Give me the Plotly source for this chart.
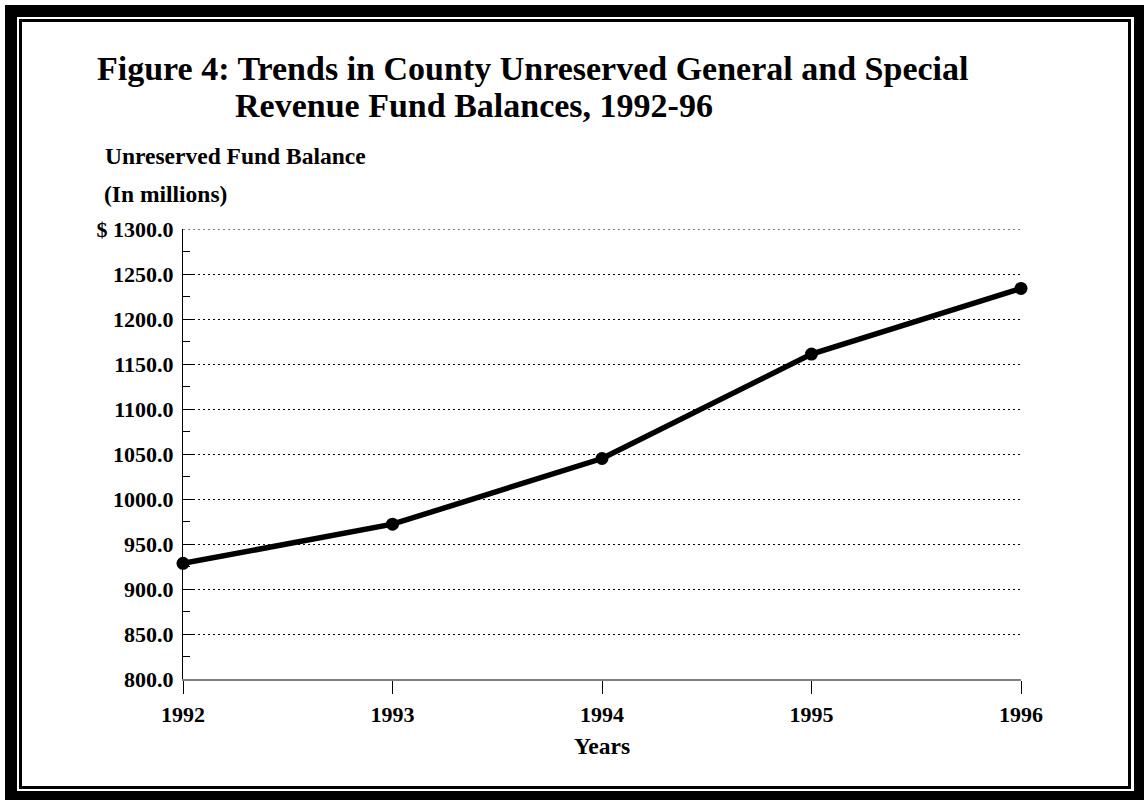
import plotly.graph_objects as go

years = [1992, 1993, 1994, 1995, 1996]
balances = [928.5, 972.0, 1045.0, 1161.0, 1234.0]
ytick_vals = [800, 850, 900, 950, 1000, 1050, 1100, 1150, 1200, 1250, 1300]
ytick_text = ["800.0", "850.0", "900.0", "950.0", "1000.0", "1050.0", "1100.0",
              "1150.0", "1200.0", "1250.0", "$ 1300.0"]
xtick_text = ["1992", "1993", "1994", "1995", "1996"]

W, H = 1144, 800
L, R, T, B = 183, 123, 229, 121
PW, PH = W - L - R, H - T - B


def px(x):
    return (x - L) / PW


def py(y):
    return (H - B - y) / PH


FONT = "Liberation Serif, Times New Roman, serif"

fig = go.Figure()
fig.add_trace(go.Scatter(
    x=years, y=balances, mode="lines+markers",
    line=dict(color="black", width=5.5),
    marker=dict(color="black", size=13),
    cliponaxis=False, showlegend=False,
))

shapes = []
for (x0, y0, x1, y1, c) in [(5, 5, 1144, 800, "black"),
                            (17, 17, 1134, 791, "white"),
                            (19, 19, 1131, 789, "black"),
                            (22, 22, 1128, 786, "white")]:
    shapes.append(dict(type="rect", xref="paper", yref="paper",
                       x0=px(x0), x1=px(x1), y0=py(y0), y1=py(y1),
                       fillcolor=c, line=dict(width=0), layer="below"))
# top gridline (at the range edge)
shapes.append(dict(type="line", xref="x", yref="y",
                   x0=years[0], x1=years[-1], y0=ytick_vals[-1], y1=ytick_vals[-1],
                   line=dict(color="black", width=1, dash="2px,3px"), layer="below"))

annotations = [
    dict(text="<b>Figure 4: Trends in County Unreserved General and Special</b>",
         x=px(95), y=py(68), xanchor="left", yanchor="middle",
         font=dict(size=34, family=FONT, color="black")),
    dict(text="<b>Revenue Fund Balances, 1992-96</b>",
         x=px(233), y=py(106), xanchor="left", yanchor="middle",
         font=dict(size=34, family=FONT, color="black")),
    dict(text="<b>Unreserved Fund Balance</b>",
         x=px(103), y=py(156.5), xanchor="left", yanchor="middle",
         font=dict(size=23.5, family=FONT, color="black")),
    dict(text="<b>(In millions)</b>",
         x=px(101.5), y=py(194), xanchor="left", yanchor="middle",
         font=dict(size=23.5, family=FONT, color="black")),
    dict(text="<b>Years</b>",
         x=0.5, y=py(745.5), xanchor="center", yanchor="middle",
         font=dict(size=23.5, family=FONT, color="black")),
]
for a in annotations:
    a.update(xref="paper", yref="paper", showarrow=False)

fig.update_layout(
    width=W, height=H,
    margin=dict(l=L, r=R, t=T, b=B, pad=0),
    paper_bgcolor="white", plot_bgcolor="white",
    shapes=shapes, annotations=annotations,
    font=dict(family=FONT, color="black"),
    xaxis=dict(
        range=[1992, 1996], tickvals=years, ticktext=xtick_text,
        showgrid=False, zeroline=False,
        showline=True, linecolor="#7f7f7f", linewidth=2,
        ticks="outside", ticklen=13, tickcolor="black", tickwidth=1,
        ticklabelstandoff=2,
        tickfont=dict(size=22, family=FONT, color="black", weight="bold"),
    ),
    yaxis=dict(
        range=[800, 1300], tickvals=ytick_vals, ticktext=ytick_text,
        showgrid=True, gridcolor="black", gridwidth=1, griddash="2px,3px",
        zeroline=False,
        showline=True, linecolor="black", linewidth=1,
        ticks="inside", ticklen=12, tickcolor="black", tickwidth=1,
        ticklabelstandoff=4,
        minor=dict(dtick=25, tick0=800, ticks="inside", ticklen=7,
                   tickcolor="black", showgrid=False),
        tickfont=dict(size=22, family=FONT, color="black", weight="bold"),
    ),
)

fig.write_html("out.html", config={"displayModeBar": False},
               post_script="document.body.style.margin='0';")
